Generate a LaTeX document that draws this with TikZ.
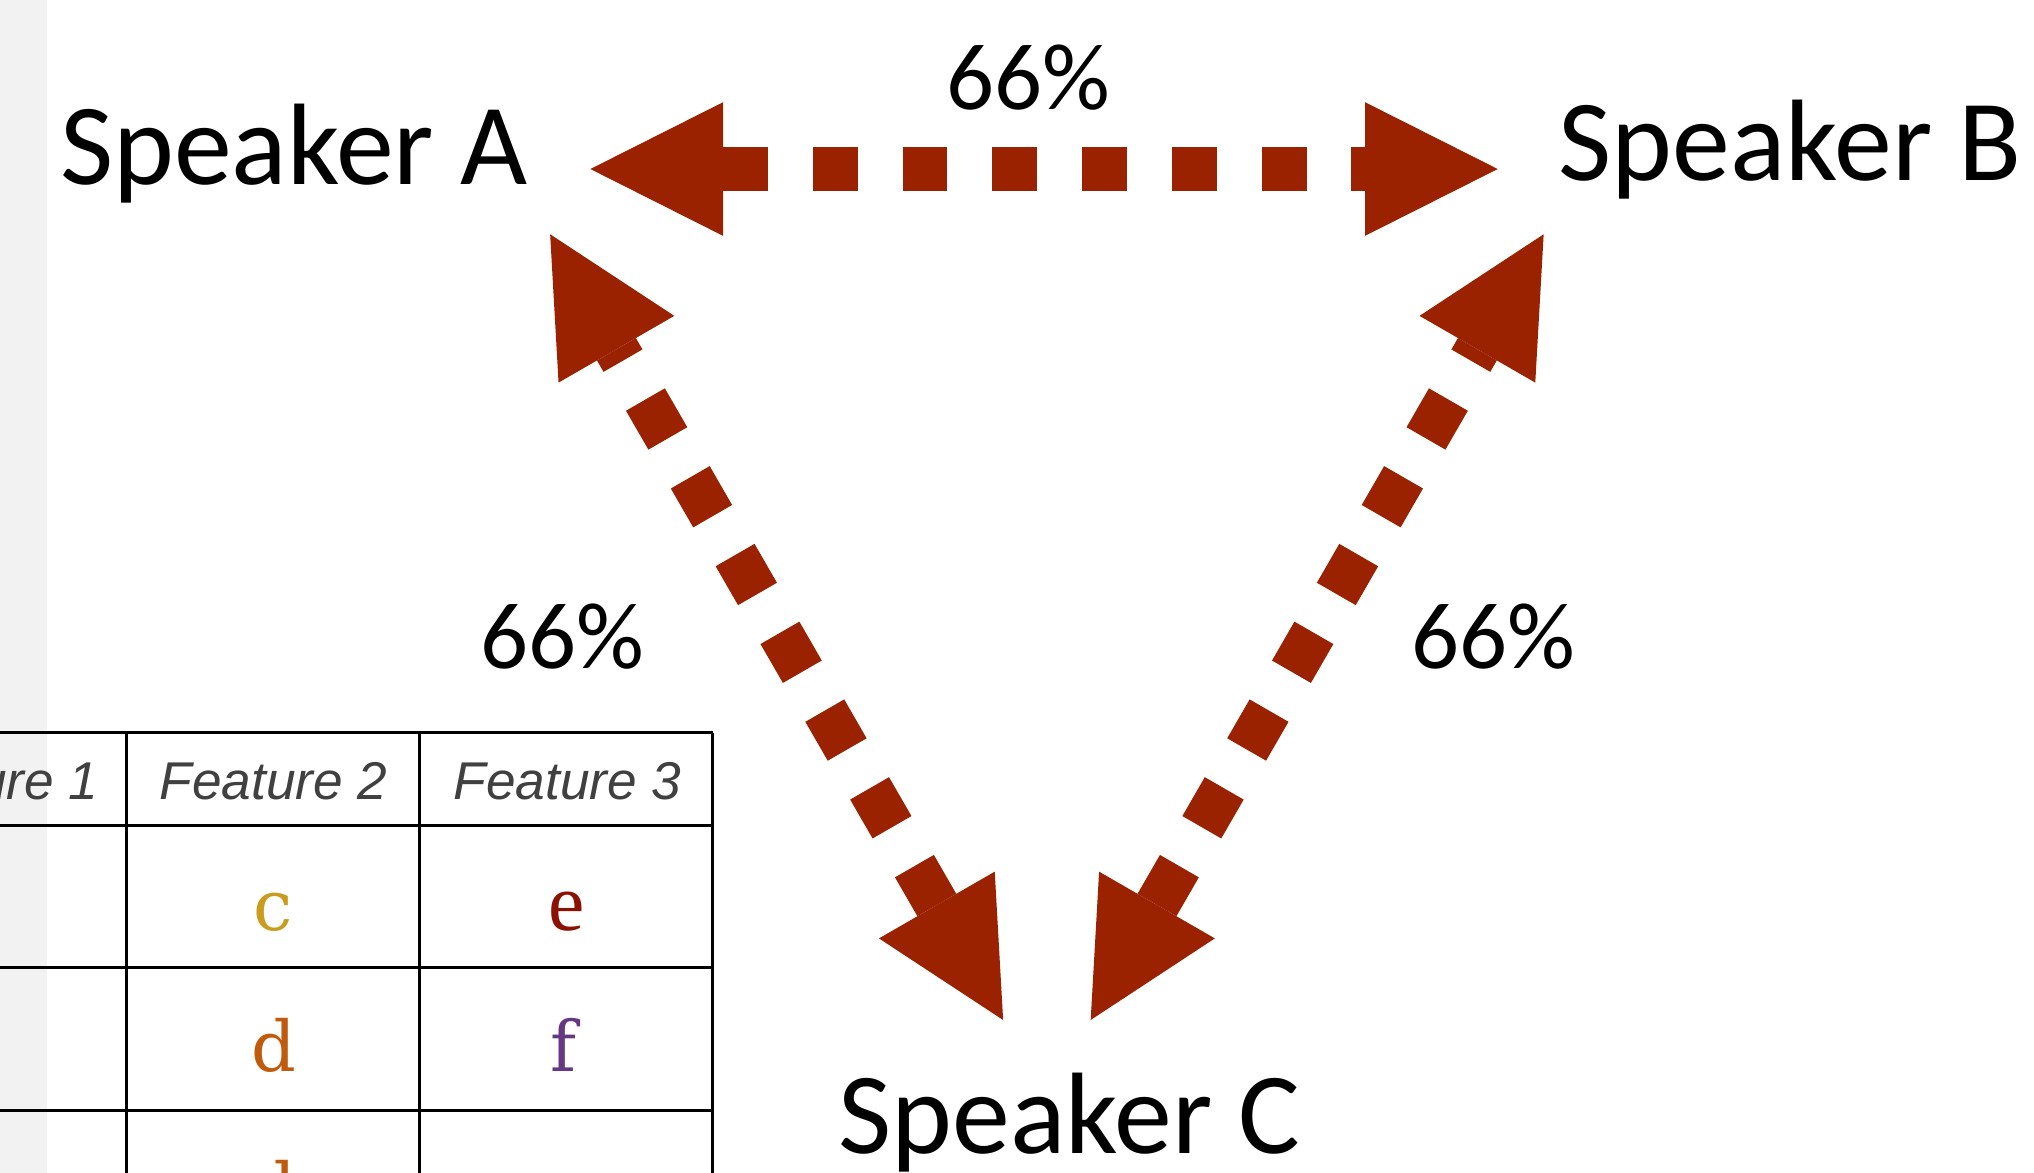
\documentclass[tikz,border=0pt]{standalone}
\usepackage{fontspec}
\setmainfont{Carlito}
\newfontfamily\headfont{Liberation Sans}
\newfontfamily\slabfont{DejaVu Serif}
\newfontfamily\romanfont{Liberation Serif}
\usetikzlibrary{calc}

\definecolor{linkred}{RGB}{154,34,0}
\definecolor{stripgray}{RGB}{242,242,242}
\definecolor{headgray}{RGB}{64,64,64}
\definecolor{cgold}{RGB}{201,156,30}
\definecolor{edark}{RGB}{139,17,0}
\definecolor{dorange}{RGB}{192,90,12}
\definecolor{fpurple}{RGB}{102,56,132}

\tikzset{
  speaker/.style={font=\fontsize{89.3}{100}\selectfont, inner sep=0pt, anchor=base},
  share/.style={font=\fontsize{73}{80}\selectfont, inner sep=0pt, anchor=base},
  colhead/.style={font=\headfont\itshape\fontsize{41}{45}\selectfont, text=headgray, inner sep=0pt, anchor=base},
  cellslab/.style={font=\slabfont\fontsize{54}{60}\selectfont, inner sep=0pt, anchor=base},
  cellroman/.style={font=\romanfont\fontsize{63}{70}\selectfont, inner sep=0pt, anchor=base},
  gridline/.style={line width=2.3pt, black},
  linkline/.style={draw=linkred, line width=34.6pt, dash pattern=on 34.6pt off 34.6pt},
  linkhead/.style={fill=linkred},
}

% Two-headed square-dotted link; the dash pattern starts at the #1 end.
\newcommand\speakerlink[2]{%
  \coordinate (#1-base) at ($(#1)!102.3pt!(#2)$);
  \coordinate (#2-base) at ($(#2)!102.3pt!(#1)$);
  \path[linkline] (#1-base) -- (#2-base);
  \fill[linkhead] (#1) -- ($(#1-base)!51.5pt!90:(#2)$) -- ($(#1-base)!51.5pt!-90:(#2)$) -- cycle;
  \fill[linkhead] (#2) -- ($(#2-base)!51.5pt!90:(#1)$) -- ($(#2-base)!51.5pt!-90:(#1)$) -- cycle;
}

\begin{document}
\begin{tikzpicture}[x=1pt, y=-1pt]
  \useasboundingbox (0,0) rectangle (1568,904);
  \clip (0,0) rectangle (1568,904);

  % side strip
  \fill[stripgray] (0,0) rectangle (36,904);

  % table grid
  \foreach \yy in {564.8, 636.5, 746, 855.7}
    \draw[gridline] (-5,\yy) -- (549.3,\yy);
  \foreach \xx in {97.3, 323.6, 549.3}
    \draw[gridline] (\xx,564.8) -- (\xx,910);

  % table header
  \node[colhead] (f1) at (-12,616.5) {Feature 1};
  \node[colhead] (f2) at (211,616.5) {Feature 2};
  \node[colhead] (f3) at (437.5,616.5) {Feature 3};

  % table cells
  \node[cellslab, text=cgold]    (c1) at (210.3,717)   {c};
  \node[cellroman, text=edark]   (e1) at (436.6,717)   {e};
  \node[cellslab, text=dorange]  (d1) at (211,826.1)   {d};
  \node[cellslab, text=fpurple]  (f1c) at (434.5,826.1) {f};
  \node[cellslab, text=dorange]  (d2) at (211,935.8)   {d};

  % speakers
  \node[speaker] (spA) at (226.5,142.6) {Speaker A};
  \node[speaker] (spB) at (1380,138.8)  {Speaker B};
  \node[speaker] (spC) at (824.5,889)   {Speaker C};

  % link ends
  \coordinate (ab1) at (455.1,130.3);
  \coordinate (ab2) at (1154.6,130.3);
  \coordinate (ac1) at (424.1,180.6);
  \coordinate (ac2) at (773.3,786.3);
  \coordinate (bc1) at (1190.0,180.6);
  \coordinate (bc2) at (840.8,786.3);

  \speakerlink{ab1}{ab2}
  \speakerlink{ac2}{ac1}
  \speakerlink{bc2}{bc1}

  % shares
  \node[share] (pAB) at (793,84.5)  {66\%};
  \node[share] (pAC) at (433.3,515) {66\%};
  \node[share] (pBC) at (1151,515)  {66\%};
\end{tikzpicture}
\end{document}
